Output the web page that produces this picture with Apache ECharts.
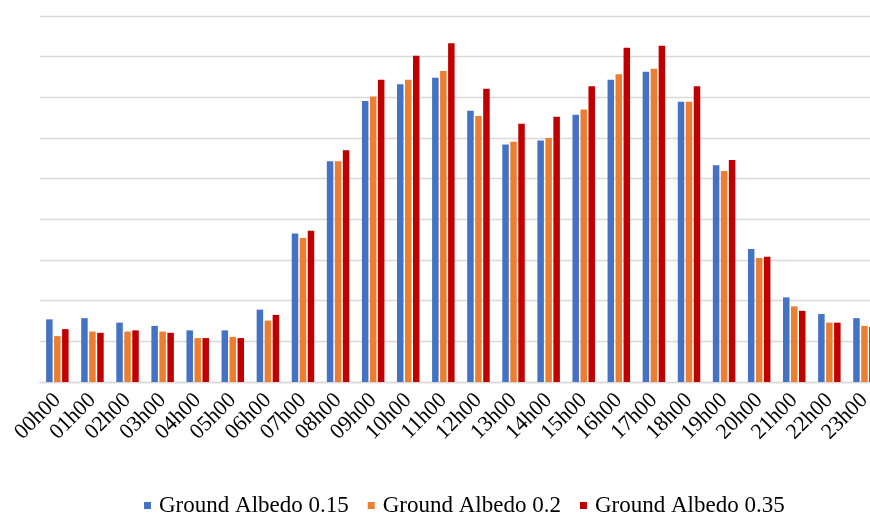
<!DOCTYPE html>
<html>
<head>
<meta charset="utf-8">
<script src="https://cdn.jsdelivr.net/npm/echarts@6/dist/echarts.min.js"></script>
<style>
  html, body { margin: 0; padding: 0; background: #fff; }
  #chart { width: 870px; height: 514px; }
</style>
</head>
<body>
<div id="chart"></div>
<script>
// Hourly categories
const hours = ['00h00','01h00','02h00','03h00','04h00','05h00','06h00','07h00','08h00','09h00','10h00','11h00',
               '12h00','13h00','14h00','15h00','16h00','17h00','18h00','19h00','20h00','21h00','22h00','23h00'];

// Series values (one gridline step = 1 unit)
const albedo015 = [1.54,1.57,1.46,1.38,1.27,1.27,1.78,3.65,5.43,6.91,7.32,7.48,
                   6.67,5.84,5.94,6.57,7.43,7.63,6.89,5.33,3.27,2.08,1.67,1.57];
const albedo02  = [1.13,1.24,1.24,1.24,1.08,1.11,1.51,3.54,5.43,7.02,7.43,7.65,
                   6.54,5.91,6.00,6.70,7.57,7.70,6.89,5.19,3.05,1.86,1.46,1.38];
const albedo035 = [1.30,1.21,1.27,1.21,1.08,1.08,1.65,3.72,5.70,7.43,8.02,8.33,
                   7.21,6.35,6.52,7.27,8.22,8.27,7.27,5.46,3.08,1.75,1.46,1.35];

const seriesNames = ['Ground Albedo 0.15', 'Ground Albedo 0.2', 'Ground Albedo 0.35'];
const seriesData = [albedo015, albedo02, albedo035];
const seriesColors = ['#4472C4', '#ED7D31', '#C00000'];

const chart = echarts.init(document.getElementById('chart'), null, { renderer: 'canvas' });

chart.setOption({
  animation: false,
  backgroundColor: '#ffffff',
  grid: {
    left: 39.8,
    right: -12,
    top: 16,
    bottom: 132,
    containLabel: false,
    outerBoundsMode: 'none'
  },
  legend: {
    data: seriesNames,
    left: 139,
    top: 489,
    itemWidth: 7,
    itemHeight: 7,
    itemGap: 19,
    icon: 'rect',
    textStyle: {
      fontFamily: 'Liberation Serif',
      fontSize: 23,
      color: '#000',
      padding: [0, 0, 0, 3]
    }
  },
  xAxis: {
    type: 'category',
    data: hours,
    axisLine: { show: true, lineStyle: { color: '#d9d9d9', width: 1.3 } },
    axisTick: { show: false },
    axisLabel: {
      interval: 0,
      rotate: 45,
      margin: 15,
      fontFamily: 'Liberation Serif',
      fontSize: 22,
      color: '#000'
    }
  },
  yAxis: {
    type: 'value',
    min: 0,
    max: 9,
    interval: 1,
    axisLine: { show: false },
    axisTick: { show: false },
    axisLabel: { show: false },
    splitLine: { lineStyle: { color: '#d9d9d9', width: 1.3 } }
  },
  series: seriesData.map((d, i) => ({
    name: seriesNames[i],
    type: 'bar',
    data: d,
    barWidth: 6.5,
    barGap: '23%',
    itemStyle: { color: seriesColors[i] }
  }))
});
</script>
</body>
</html>
